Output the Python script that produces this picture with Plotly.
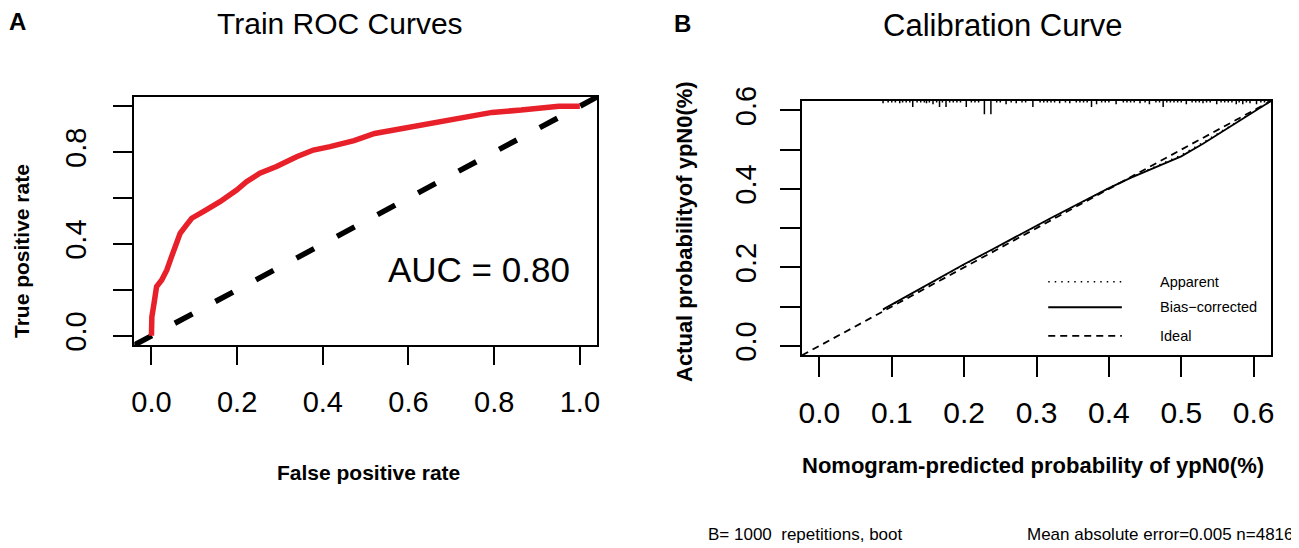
import plotly.graph_objects as go

# ROC curve (panel A)
roc_fpr = [0.0, 0.001, 0.006, 0.012, 0.024, 0.036, 0.047, 0.059, 0.067, 0.082, 0.094,
           0.121, 0.160, 0.199, 0.222, 0.253, 0.292, 0.339, 0.378, 0.417, 0.473, 0.521,
           0.619, 0.668, 0.736, 0.795, 0.863, 0.951, 1.0]
roc_tpr = [0.0, 0.083, 0.141, 0.214, 0.243, 0.287, 0.345, 0.403, 0.446, 0.483, 0.512,
           0.541, 0.584, 0.635, 0.671, 0.708, 0.737, 0.780, 0.809, 0.824, 0.850, 0.881,
           0.912, 0.927, 0.950, 0.973, 0.983, 1.0, 1.0]
auc_label = "AUC = 0.80"

# calibration curve (panel B)
cal_pred = [0.088, 0.12, 0.16, 0.20, 0.24, 0.28, 0.32, 0.36, 0.40, 0.43, 0.46, 0.50,
            0.53, 0.56, 0.59, 0.624]
cal_bias = [0.093, 0.126, 0.168, 0.208, 0.247, 0.287, 0.326, 0.364, 0.402, 0.428, 0.452,
            0.483, 0.515, 0.550, 0.584, 0.624]
cal_apparent = [0.092, 0.125, 0.167, 0.207, 0.246, 0.286, 0.325, 0.363, 0.402, 0.429,
                0.454, 0.486, 0.518, 0.552, 0.585, 0.624]

# rug of predicted values along the top edge (x, tick height)
rug_x = [0.088, 0.111, 0.129, 0.148, 0.157, 0.166, 0.175, 0.203, 0.228, 0.237, 0.258,
         0.272, 0.295, 0.332, 0.346, 0.376, 0.383, 0.410, 0.443, 0.456, 0.475, 0.507,
         0.530, 0.549, 0.576, 0.585, 0.595, 0.604]
rug_h = [0.006, 0.006, 0.015, 0.006, 0.008, 0.015, 0.015, 0.015, 0.034, 0.034, 0.008,
         0.006, 0.015, 0.006, 0.006, 0.015, 0.008, 0.008, 0.006, 0.008, 0.015, 0.008,
         0.006, 0.008, 0.008, 0.008, 0.006, 0.008]
rug_minor = [0.095, 0.10, 0.105, 0.115, 0.12, 0.125, 0.135, 0.14, 0.145, 0.152, 0.162,
             0.17, 0.18, 0.185, 0.19, 0.195, 0.21, 0.215, 0.22, 0.245, 0.25, 0.265,
             0.28, 0.285, 0.305, 0.31, 0.315, 0.32, 0.325, 0.34, 0.355, 0.36, 0.365,
             0.37, 0.39, 0.395, 0.40, 0.42, 0.425, 0.43, 0.435, 0.45, 0.465, 0.47, 0.48,
             0.485, 0.49, 0.495, 0.50, 0.515, 0.52, 0.525, 0.535, 0.54, 0.555, 0.56,
             0.565, 0.57, 0.58, 0.59, 0.61, 0.615, 0.62]

bootstrap_note = "B= 1000\u00a0\u00a0repetitions, boot"
error_note = "Mean absolute error=0.005 n=4816"

roc_ticks = [0.0, 0.2, 0.4, 0.6, 0.8, 1.0]
roc_ylabels = ["0.0", "", "0.4", "", "0.8", ""]
cal_xticks = [0.0, 0.1, 0.2, 0.3, 0.4, 0.5, 0.6]
cal_ylabels = ["0.0", "", "0.2", "", "0.4", "", "0.6"]

roc_range = [-0.04, 1.04]
cal_range = [-0.024, 0.624]

# page has an 8px body margin, so the figure is made smaller and shifted
OFF = 8
W, H = 1299 - OFF, 548 - OFF
FONT = "Liberation Sans, Arial, sans-serif"


def px_x(v):
    return (v - OFF) / W


def px_y(v):
    return 1 - (v - OFF) / H


fig = go.Figure()

# chance line
fig.add_trace(go.Scatter(x=roc_range, y=roc_range, mode="lines", xaxis="x", yaxis="y",
                         line=dict(color="black", width=5.5, dash="20px,26px"),
                         showlegend=False, hoverinfo="skip"))
fig.add_trace(go.Scatter(x=roc_fpr, y=roc_tpr, mode="lines", xaxis="x", yaxis="y",
                         line=dict(color="#e8202a", width=5.5),
                         showlegend=False))

# calibration
fig.add_trace(go.Scatter(x=cal_range, y=cal_range, mode="lines", xaxis="x2", yaxis="y2",
                         line=dict(color="black", width=1.8, dash="7px,5px"),
                         showlegend=False, hoverinfo="skip"))
fig.add_trace(go.Scatter(x=cal_pred, y=cal_apparent, mode="lines", xaxis="x2", yaxis="y2",
                         line=dict(color="black", width=1.5, dash="1.5px,5px"),
                         showlegend=False))
fig.add_trace(go.Scatter(x=cal_pred, y=cal_bias, mode="lines", xaxis="x2", yaxis="y2",
                         line=dict(color="black", width=1.8),
                         showlegend=False))

# rug
top = cal_range[1]
rx, ry = [], []
for x, h in zip(rug_x, rug_h):
    rx += [x, x, None]
    ry += [top, top - h, None]
for x in rug_minor:
    rx += [x, x, None]
    ry += [top, top - 0.004, None]
fig.add_trace(go.Scatter(x=rx, y=ry, mode="lines", xaxis="x2", yaxis="y2",
                         line=dict(color="black", width=1.5),
                         showlegend=False, hoverinfo="skip"))

axis_common = dict(showgrid=False, zeroline=False, showline=True, linecolor="black",
                   linewidth=2, mirror=True, ticks="outside", tickwidth=2,
                   tickcolor="black", fixedrange=True, automargin=False)

fig.update_layout(
    width=W, height=H,
    margin=dict(l=0, r=0, t=0, b=0, pad=0, autoexpand=False),
    showlegend=False,
    paper_bgcolor="white", plot_bgcolor="white",
    font=dict(family=FONT, color="black"),
    xaxis=dict(domain=[px_x(134.3), px_x(597)], range=roc_range, anchor="y",
               tickvals=roc_ticks, ticktext=["0.0", "0.2", "0.4", "0.6", "0.8", "1.0"],
               ticklen=18, tickfont=dict(size=29), ticklabelstandoff=12, **axis_common),
    yaxis=dict(domain=[px_y(345), px_y(97)], range=roc_range, anchor="x",
               tickvals=roc_ticks, ticktext=roc_ylabels, tickangle=-90,
               ticklen=19, tickfont=dict(size=29), ticklabelstandoff=16, **axis_common),
    xaxis2=dict(domain=[px_x(802), px_x(1271)], range=cal_range, anchor="y2",
                tickvals=cal_xticks, ticktext=["0.0", "0.1", "0.2", "0.3", "0.4", "0.5", "0.6"],
                ticklen=20, tickfont=dict(size=30), ticklabelstandoff=10, **axis_common),
    yaxis2=dict(domain=[px_y(355.3), px_y(101)], range=cal_range, anchor="x2",
                tickvals=cal_xticks, ticktext=cal_ylabels, tickangle=-90,
                ticklen=20, tickfont=dict(size=29), ticklabelstandoff=12, **axis_common),
)


def note(text, x, y, size, bold=False, xanchor="center", angle=0, xref="paper", yref="paper"):
    fig.add_annotation(text=("<b>%s</b>" % text) if bold else text,
                       x=x, y=y, xref=xref, yref=yref, showarrow=False,
                       xanchor=xanchor, yanchor="middle", textangle=angle,
                       font=dict(size=size, family=FONT, color="black"))


note("A", px_x(17), px_y(22), 24, bold=True)
note("B", px_x(682), px_y(23), 24, bold=True)
note("Train ROC Curves", px_x(340), px_y(23), 30)
note("Calibration Curve", px_x(1003), px_y(26), 31)
note("False positive rate", px_x(368), px_y(472), 21, bold=True)
note("True positive rate", px_x(22), px_y(251), 21, bold=True, angle=-90)
note("Nomogram-predicted probability of ypN0(%)", px_x(1033), px_y(465), 22, bold=True)
note("Actual probabilityof ypN0(%)", px_x(685), px_y(232), 22, bold=True, angle=-90)
note(auc_label, px_x(479), px_y(269), 35)
note(bootstrap_note, px_x(706), px_y(534), 17, xanchor="left")
note(error_note, px_x(1296), px_y(534), 17, xanchor="right")

# legend of panel B drawn inside the plot area
legend_items = [("Apparent", dict(dash="1.5px,5px", width=1.5), 0.289),
                ("Bias\u2212corrected", dict(width=1.8), 0.189),
                ("Ideal", dict(dash="7px,5px", width=1.8), 0.076)]
for label, style, ly in legend_items:
    fig.add_shape(type="line", xref="x2 domain", yref="y2 domain",
                  x0=0.525, x1=0.682, y0=ly, y1=ly,
                  line=dict(color="black", **style))
    fig.add_annotation(text=label, xref="x2 domain", yref="y2 domain", x=0.760, y=ly,
                       xanchor="left", yanchor="middle", showarrow=False,
                       font=dict(size=14.5, family=FONT, color="black"))

fig.write_html("out.html")
